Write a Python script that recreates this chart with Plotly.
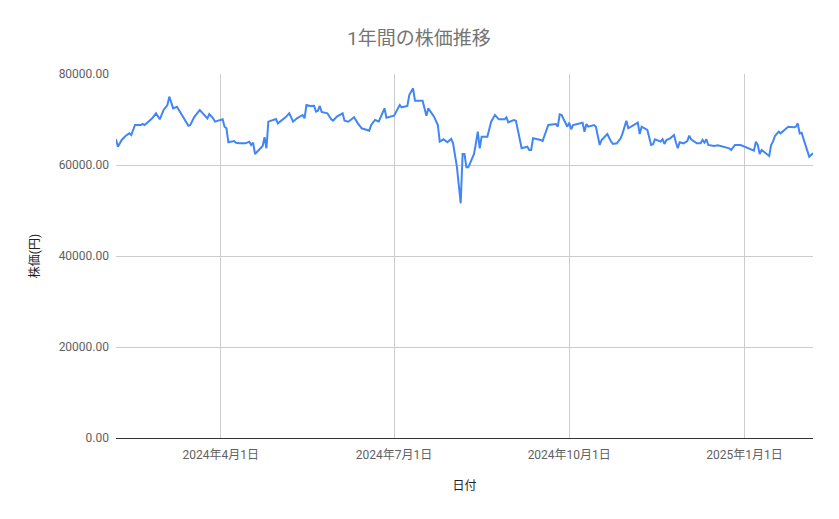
import plotly.graph_objects as go

dates = [
    "2024-02-06", "2024-02-07", "2024-02-09", "2024-02-11", "2024-02-13", "2024-02-14",
    "2024-02-16", "2024-02-19", "2024-02-20", "2024-02-21", "2024-02-23", "2024-02-25",
    "2024-02-27", "2024-02-29", "2024-03-02", "2024-03-04", "2024-03-05", "2024-03-06",
    "2024-03-07", "2024-03-09", "2024-03-11", "2024-03-13", "2024-03-15", "2024-03-16",
    "2024-03-18", "2024-03-21", "2024-03-23", "2024-03-25", "2024-03-26", "2024-03-28",
    "2024-03-29", "2024-03-31", "2024-04-02", "2024-04-03", "2024-04-04", "2024-04-05",
    "2024-04-08", "2024-04-09", "2024-04-11", "2024-04-14", "2024-04-16", "2024-04-17",
    "2024-04-18", "2024-04-19", "2024-04-21", "2024-04-23", "2024-04-24", "2024-04-25",
    "2024-04-26", "2024-04-29", "2024-04-30", "2024-05-01", "2024-05-05", "2024-05-07",
    "2024-05-09", "2024-05-11", "2024-05-14", "2024-05-15", "2024-05-16", "2024-05-18",
    "2024-05-20", "2024-05-21", "2024-05-22", "2024-05-23", "2024-05-24", "2024-05-27",
    "2024-05-29", "2024-05-30", "2024-06-01", "2024-06-04", "2024-06-05", "2024-06-07",
    "2024-06-10", "2024-06-12", "2024-06-14", "2024-06-18", "2024-06-19", "2024-06-21",
    "2024-06-23", "2024-06-26", "2024-06-27", "2024-07-01", "2024-07-04", "2024-07-05",
    "2024-07-08", "2024-07-09", "2024-07-11", "2024-07-12", "2024-07-16", "2024-07-18",
    "2024-07-19", "2024-07-22", "2024-07-24", "2024-07-25", "2024-07-27", "2024-07-29",
    "2024-07-31", "2024-08-01", "2024-08-03", "2024-08-05", "2024-08-06", "2024-08-07",
    "2024-08-08", "2024-08-09", "2024-08-12", "2024-08-13", "2024-08-14", "2024-08-15",
    "2024-08-16", "2024-08-19", "2024-08-21", "2024-08-23", "2024-08-25", "2024-08-28",
    "2024-08-29", "2024-08-30", "2024-09-02", "2024-09-03", "2024-09-06", "2024-09-09",
    "2024-09-10", "2024-09-11", "2024-09-12", "2024-09-16", "2024-09-17", "2024-09-20",
    "2024-09-24", "2024-09-25", "2024-09-26", "2024-09-27", "2024-09-30", "2024-10-01",
    "2024-10-02", "2024-10-03", "2024-10-07", "2024-10-08", "2024-10-09", "2024-10-10",
    "2024-10-11", "2024-10-14", "2024-10-15", "2024-10-17", "2024-10-18", "2024-10-21",
    "2024-10-23", "2024-10-24", "2024-10-26", "2024-10-28", "2024-10-29", "2024-10-31",
    "2024-11-01", "2024-11-06", "2024-11-07", "2024-11-08", "2024-11-11", "2024-11-13",
    "2024-11-14", "2024-11-15", "2024-11-18", "2024-11-19", "2024-11-20", "2024-11-21",
    "2024-11-23", "2024-11-25", "2024-11-26", "2024-11-27", "2024-11-28", "2024-11-30",
    "2024-12-02", "2024-12-03", "2024-12-04", "2024-12-07", "2024-12-09", "2024-12-10",
    "2024-12-11", "2024-12-12", "2024-12-13", "2024-12-16", "2024-12-18", "2024-12-21",
    "2024-12-24", "2024-12-25", "2024-12-27", "2024-12-30", "2025-01-01", "2025-01-06",
    "2025-01-07", "2025-01-08", "2025-01-09", "2025-01-10", "2025-01-14", "2025-01-15",
    "2025-01-16", "2025-01-17", "2025-01-19", "2025-01-20", "2025-01-22", "2025-01-24",
    "2025-01-27", "2025-01-28", "2025-01-29", "2025-01-30", "2025-01-31", "2025-02-04",
    "2025-02-06",
]

prices = [
    65650, 64020, 65500, 66370, 66960, 66590,
    68790, 68790, 69010, 68790, 69520, 70260,
    71360, 70040, 72090, 73190, 75020, 73920,
    72460, 72810, 71360, 69890, 68640, 68790,
    70480, 72090, 71210, 70260, 71210, 70260,
    69520, 69740, 70040, 68420, 68060, 64990,
    65280, 64900, 64770, 64770, 65130, 64400,
    64900, 62420, 63300, 64180, 66090, 63670,
    69520, 70040, 70110, 69160, 70480, 71360,
    69520, 70260, 70990, 70260, 73190, 72970,
    73030, 71720, 71940, 72970, 71650, 71360,
    70040, 69740, 70630, 71360, 69740, 69520,
    70480, 69160, 68060, 67540, 68790, 69890,
    69590, 72460, 70400, 70840, 73190, 72680,
    72970, 75380, 76860, 74130, 74130, 70840,
    72460, 70630, 68790, 65130, 65650, 64990,
    65720, 64770, 59630, 51580, 62420, 62420,
    59490, 59490, 62420, 64770, 67320, 63670,
    66220, 66220, 69520, 70990, 70040, 70040,
    70480, 69380, 69890, 69740, 63670, 64020,
    63300, 63300, 65870, 65500, 65280, 68790,
    69010, 68420, 71140, 70990, 68420, 69300,
    67840, 68790, 69300, 69300, 67320, 69010,
    68420, 68790, 68420, 64400, 65500, 66810,
    65130, 64620, 64770, 65870, 66960, 69740,
    68060, 69300, 66810, 68420, 67690, 64400,
    64550, 65650, 65130, 65650, 64620, 65500,
    65870, 66590, 64990, 63670, 64990, 64770,
    65280, 66440, 65650, 64770, 64770, 65500,
    64900, 65650, 64400, 64180, 64330, 64020,
    63670, 63300, 64400, 64400, 64020, 63150,
    65130, 64400, 62420, 63300, 61980, 64400,
    65130, 66370, 67320, 66960, 67690, 68420,
    68280, 68420, 69160, 66960, 67100, 61830,
    62570,
]

tick_dates = ["2024-04-01", "2024-07-01", "2024-10-01", "2025-01-01"]
tick_labels = ["2024年4月1日", "2024年7月1日", "2024年10月1日", "2025年1月1日"]
y_ticks = [0, 20000, 40000, 60000, 80000]

FONT = "Roboto, 'Noto Sans CJK JP', sans-serif"

# the page body has an 8px margin, so the figure is sized to fit inside it
W, H = 823, 503

fig = go.Figure()
fig.add_trace(go.Scatter(
    x=dates, y=prices, mode="lines",
    line=dict(color="#4285F4", width=2),
    showlegend=False, hoverinfo="x+y",
))

fig.update_layout(
    width=W, height=H,
    margin=dict(l=108, r=18, t=66, b=73),
    paper_bgcolor="white", plot_bgcolor="white",
    font=dict(family=FONT, color="#757575", size=12),
    title=dict(
        text="1年間の株価推移", x=(419 - 8) / W, xanchor="center",
        y=1 - 30 / H, yanchor="middle",
        font=dict(family=FONT, size=19, color="#757575"),
    ),
    xaxis=dict(
        type="date", range=[dates[0], dates[-1]],
        tickvals=tick_dates, ticktext=tick_labels,
        showgrid=True, gridcolor="#cccccc", gridwidth=1,
        showline=False, zeroline=False, ticks="", ticklabelstandoff=8,
        tickfont=dict(size=12, color="#616161"),
        title=dict(text="日付", standoff=20, font=dict(size=12, color="#222222")),
    ),
    yaxis=dict(
        range=[0, 80000], tickvals=y_ticks, tickformat=".2f",
        showgrid=True, gridcolor="#cccccc", gridwidth=1,
        zeroline=True, zerolinecolor="#333333", zerolinewidth=1,
        showline=False, ticks="", ticklabelstandoff=6,
        tickfont=dict(size=12, color="#616161"),
        title=dict(text="株価(円)", standoff=16, font=dict(size=12, color="#222222")),
    ),
)

fig.write_html("out.html")
